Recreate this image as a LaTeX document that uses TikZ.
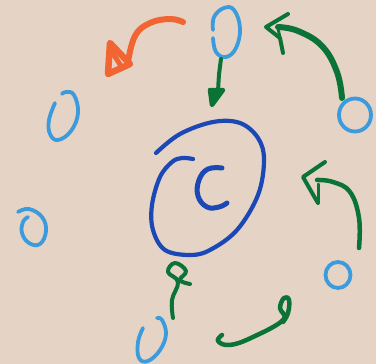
\documentclass[tikz,border=0pt]{standalone}
\usetikzlibrary{calc}
\definecolor{bg}{HTML}{E5D4C6}
\definecolor{lblue}{HTML}{3B9BDD}
\definecolor{dblue}{HTML}{1B48B5}
\definecolor{dgreen}{HTML}{0B7336}
\definecolor{orng}{HTML}{F26431}
\tikzset{
  ring/.style={draw=lblue, line width=3.8pt, line cap=round, line join=round},
  bigring/.style={draw=dblue, line width=4.2pt, line cap=round, line join=round},
  garrow/.style={draw=dgreen, line width=4.5pt, line cap=round, line join=round},
  oarrow/.style={draw=orng, line width=6pt, line cap=round, line join=round},
}
\begin{document}
\begin{tikzpicture}[x=1pt,y=-1pt]
\fill[bg] (0,0) rectangle (376,364);
\useasboundingbox (0,0) rectangle (376,364);

% light blue rings
\draw[ring] plot[smooth,tension=0.7] coordinates {(213,38) (216,52) (226,57) (236,48) (240,28) (234,10) (224,8) (214,17) (213,30)};
\draw[ring] plot[smooth,tension=0.7] coordinates {(55,103) (49,120) (50,134) (58,140) (71,131) (78,113) (74,95) (66,92) (62,94)};
\draw[ring] plot[smooth,tension=0.7] coordinates {(18,212) (29,209) (42,217) (46,231) (40,244) (29,243) (22,233) (23,222) (28,217)};
\draw[ring] (355,115) ellipse [x radius=16, y radius=16.5];
\draw[ring] (338,275) ellipse [x radius=12.5, y radius=13];
\draw[ring] plot[smooth,tension=0.7] coordinates {(143,328) (138,342) (139,358) (148,361) (160,350) (166,334) (162,320) (157,318)};

% big dark blue spiral and C
\draw[bigring] plot[smooth,tension=0.6] coordinates {(156,153) (180,134) (213,122) (240,123) (258,138) (264,160) (258,195) (237,230) (210,250) (190,255) (165,250) (153,230) (152,205) (160,177) (172,162) (182,158) (193,159)};
\draw[bigring, line width=5pt] plot[smooth,tension=0.7] coordinates {(222,168) (208,169) (199,180) (198,196) (207,207) (219,207) (227,203)};

% orange arrow
\draw[oarrow] plot[smooth,tension=0.7] coordinates {(183,22) (170,19) (150,23) (135,36) (128,62)};
\draw[oarrow, line width=6.5pt] (110,43) -- (108,74) -- (130,64) -- cycle;
\draw[oarrow, line width=5pt] (112,52) -- (121,66);

% green arrow down from top ring
\draw[garrow, line width=4pt] plot[smooth] coordinates {(221,59) (219,75) (218,92)};
\filldraw[garrow, fill=dgreen, line width=4.5pt] (210,90) -- (223,90) -- (212,105) -- cycle;

% top-right green arrow
\draw[garrow, line width=6pt] plot[smooth,tension=0.7] coordinates {(342,98) (337,72) (322,46) (298,31) (278,27)};
\draw[garrow, line width=4pt] (288,14) -- (266,27) -- (280,38) -- (283,53);
\draw[garrow, line width=3pt] (278,28) -- (280,38);

% right green arrow
\draw[garrow, line width=4.5pt] plot[smooth,tension=0.7] coordinates {(359,248) (359,218) (350,192) (333,182) (317,180)};
\draw[garrow, line width=4pt] (325,162) -- (303,177) -- (315,198) -- (318,203);
\draw[garrow, line width=3pt] (318,184) -- (318,202);

% bottom green arrow (up)
\draw[garrow, line width=4pt] plot[smooth,tension=0.7] coordinates {(173,318) (172,300) (178,282) (168,272) (175,263) (186,271) (180,280) (190,284)};

% bottom-right green arrow
\draw[garrow, line width=4.5pt] plot[smooth,tension=0.7] coordinates {(222,335) (218,341) (230,345) (253,337) (283,320) (280,308) (284,298) (289,300) (288,313) (283,322)};
\end{tikzpicture}
\end{document}
